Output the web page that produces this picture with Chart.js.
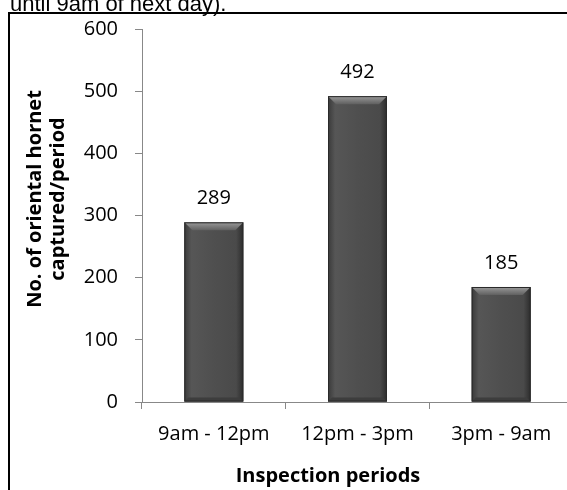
<!DOCTYPE html>
<html>
<head>
<meta charset="utf-8">
<script src="https://cdn.jsdelivr.net/npm/chart.js@4"></script>
<style>
  html, body { margin: 0; padding: 0; overflow: hidden; background: #fff; }
  #wrap { width: 590px; height: 500px; }
</style>
</head>
<body>
<div id="wrap"><canvas id="hornetChart" width="590" height="500"></canvas></div>
<script>
const periods = ['9am - 12pm', '12pm - 3pm', '3pm - 9am'];
const hornetCounts = [289, 492, 185];
const yMin = 0;
const yMax = 600;
const yStep = 100;
const yTitleLines = ['No. of oriental hornet', 'captured/period'];
const xTitle = 'Inspection periods';
const captionTail = 'until 9am of next day).';

const FONT = "'Open Sans', sans-serif";

// frame, caption and axis titles
const framePlugin = {
  id: 'frame',
  beforeDraw(chart) {
    const ctx = chart.ctx;
    ctx.save();
    ctx.fillStyle = '#fff';
    ctx.fillRect(0, 0, chart.width, chart.height);
    ctx.restore();
  },
  afterDraw(chart) {
    const ctx = chart.ctx;
    ctx.save();
    ctx.strokeStyle = '#000';
    ctx.lineWidth = 2;
    ctx.strokeRect(9, 13, 700, 700);

    ctx.fillStyle = '#000';
    ctx.font = "22px 'Liberation Sans', Arial, sans-serif";
    ctx.textAlign = 'left';
    ctx.textBaseline = 'alphabetic';
    ctx.fillText(captionTail, 10, 11);

    ctx.font = 'bold 20px ' + FONT;
    ctx.textAlign = 'center';
    ctx.fillText(xTitle, 328, 482);

    const yMid = 199;
    [41, 64].forEach((x, i) => {
      ctx.save();
      ctx.translate(x, yMid);
      ctx.rotate(-Math.PI / 2);
      ctx.fillText(yTitleLines[i], 0, 0);
      ctx.restore();
    });
    ctx.restore();
  }
};

// shaded bars with a bevelled top + value labels
const barLookPlugin = {
  id: 'barLook',
  afterDatasetsDraw(chart) {
    const ctx = chart.ctx;
    const meta = chart.getDatasetMeta(0);
    ctx.save();
    meta.data.forEach((bar, i) => {
      const left = bar.x - bar.width / 2;
      const right = bar.x + bar.width / 2;
      const top = bar.y;
      const bottom = bar.base;
      const w = right - left;

      const g = ctx.createLinearGradient(left, 0, right, 0);
      g.addColorStop(0, '#3a3a3a');
      g.addColorStop(0.12, '#565656');
      g.addColorStop(0.5, '#4f4f4f');
      g.addColorStop(0.88, '#4a4a4a');
      g.addColorStop(1, '#2c2c2c');
      ctx.fillStyle = g;
      ctx.fillRect(left, top, w, bottom - top);

      // top bevel
      const bv = 8;
      const tg = ctx.createLinearGradient(0, top, 0, top + bv);
      tg.addColorStop(0, '#9a9a9a');
      tg.addColorStop(1, '#606060');
      ctx.fillStyle = tg;
      ctx.beginPath();
      ctx.moveTo(left, top);
      ctx.lineTo(right, top);
      ctx.lineTo(right - bv, top + bv);
      ctx.lineTo(left + bv, top + bv);
      ctx.closePath();
      ctx.fill();

      // bottom bevel
      ctx.fillStyle = '#3d3d3d';
      ctx.beginPath();
      ctx.moveTo(left, bottom);
      ctx.lineTo(right, bottom);
      ctx.lineTo(right - 4, bottom - 4);
      ctx.lineTo(left + 4, bottom - 4);
      ctx.closePath();
      ctx.fill();

      ctx.strokeStyle = '#2a2a2a';
      ctx.lineWidth = 1;
      ctx.strokeRect(left + 0.5, top + 0.5, w - 1, bottom - top - 1);

      ctx.fillStyle = '#000';
      ctx.font = '20px ' + FONT;
      ctx.textAlign = 'center';
      ctx.textBaseline = 'middle';
      ctx.fillText(String(hornetCounts[i]), bar.x, top - 24);
    });
    ctx.restore();
  }
};

new Chart(document.getElementById('hornetChart'), {
  type: 'bar',
  data: {
    labels: periods,
    datasets: [{
      data: hornetCounts,
      backgroundColor: '#4b4b4b',
      borderColor: '#2a2a2a',
      borderWidth: 0,
      categoryPercentage: 1,
      barPercentage: 0.41
    }]
  },
  options: {
    responsive: false,
    devicePixelRatio: 1,
    animation: false,
    layout: { padding: { top: 27, right: 17, left: 0, bottom: 0 } },
    plugins: {
      legend: { display: false },
      tooltip: { enabled: false }
    },
    scales: {
      x: {
        offset: true,
        grid: { offset: true, drawOnChartArea: false, drawTicks: true, tickLength: 7, color: '#888' },
        border: { color: '#888', width: 1 },
        ticks: { color: '#000', font: { family: FONT, size: 20 }, padding: 13, maxRotation: 0 },
        afterFit(scale) { scale.height = 98; }
      },
      y: {
        min: yMin,
        max: yMax,
        grid: { drawOnChartArea: false, drawTicks: true, tickLength: 7, color: '#888' },
        border: { color: '#888', width: 1 },
        ticks: { stepSize: yStep, color: '#000', font: { family: FONT, size: 20 }, padding: 17 },
        afterFit(scale) { scale.width = 142; }
      }
    }
  },
  plugins: [framePlugin, barLookPlugin]
});
</script>
</body>
</html>
